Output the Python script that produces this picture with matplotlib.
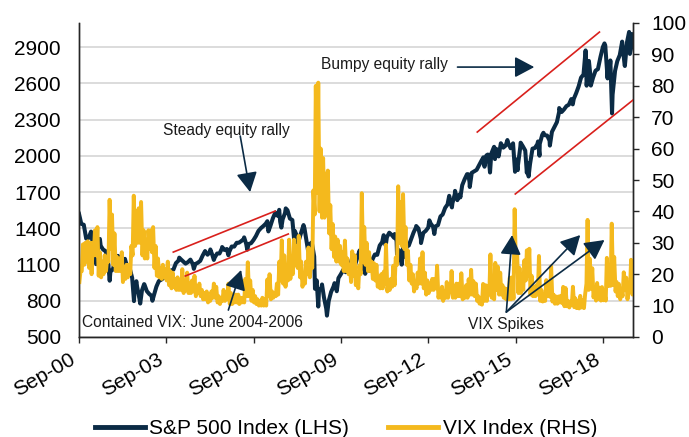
import matplotlib
matplotlib.use("Agg")
import matplotlib.pyplot as plt
import matplotlib.dates as mdates
from matplotlib import font_manager
import pandas as pd
import numpy as np

# ---------------- data ----------------
# S&P 500 month-end closes (Sep 2000 - Sep 2019)
spx_2000 = [1436.5, 1429.4, 1315.2, 1320.3]
spx_2001 = [1366.0, 1239.9, 1160.3, 1249.5, 1255.8, 1224.4, 1211.2, 1133.6, 1040.9, 1059.8, 1139.5, 1148.1]
spx_2002 = [1130.2, 1106.7, 1147.4, 1076.9, 1067.1, 989.8, 911.6, 916.1, 815.3, 885.8, 936.3, 879.8]
spx_2003 = [855.7, 841.2, 848.2, 916.9, 963.6, 974.5, 990.3, 1008.0, 996.0, 1050.7, 1058.2, 1111.9]
spx_2004 = [1131.1, 1144.9, 1126.2, 1107.3, 1120.7, 1140.8, 1101.7, 1104.2, 1114.6, 1130.2, 1173.8, 1211.9]
spx_2005 = [1181.3, 1203.6, 1180.6, 1156.9, 1191.5, 1191.3, 1234.2, 1220.3, 1228.8, 1207.0, 1249.5, 1248.3]
spx_2006 = [1280.1, 1280.7, 1294.8, 1310.6, 1270.1, 1270.2, 1276.7, 1303.8, 1335.9, 1377.9, 1400.6, 1418.3]
spx_2007 = [1438.2, 1406.8, 1420.9, 1482.4, 1530.6, 1503.4, 1455.3, 1474.0, 1526.8, 1549.4, 1481.1, 1468.4]
spx_2008 = [1378.6, 1330.6, 1322.7, 1385.6, 1400.4, 1280.0, 1267.4, 1282.8, 1166.4, 968.8, 896.2, 903.3]
spx_2009 = [825.9, 735.1, 797.9, 872.8, 919.1, 919.3, 987.5, 1020.6, 1057.1, 1036.2, 1095.6, 1115.1]
spx_2010 = [1073.9, 1104.5, 1169.4, 1186.7, 1089.4, 1030.7, 1101.6, 1049.3, 1141.2, 1183.3, 1180.6, 1257.6]
spx_2011 = [1286.1, 1327.2, 1325.8, 1363.6, 1345.2, 1320.6, 1292.3, 1218.9, 1131.4, 1253.3, 1247.0, 1257.6]
spx_2012 = [1312.4, 1365.7, 1408.5, 1397.9, 1310.3, 1362.2, 1379.3, 1406.6, 1440.7, 1412.2, 1416.2, 1426.2]
spx_2013 = [1498.1, 1514.7, 1569.2, 1597.6, 1630.7, 1606.3, 1685.7, 1633.0, 1681.6, 1756.5, 1805.8, 1848.4]
spx_2014 = [1782.6, 1859.5, 1872.3, 1883.9, 1923.6, 1960.2, 1930.7, 2003.4, 1972.3, 2018.1, 2067.6, 2058.9]
spx_2015 = [1995.0, 2104.5, 2067.9, 2085.5, 2107.4, 2063.1, 2103.8, 1972.2, 1920.0, 2079.4, 2080.4, 2043.9]
spx_2016 = [1940.2, 1932.2, 2059.7, 2065.3, 2097.0, 2098.9, 2173.6, 2171.0, 2168.3, 2126.2, 2198.8, 2238.8]
spx_2017 = [2278.9, 2363.6, 2362.7, 2384.2, 2411.8, 2423.4, 2470.3, 2471.7, 2519.4, 2575.3, 2647.6, 2673.6]
spx_2018 = [2823.8, 2713.8, 2640.9, 2648.1, 2705.3, 2718.4, 2816.3, 2901.5, 2914.0, 2711.7, 2760.2, 2506.9]
spx_2019 = [2704.1, 2784.5, 2834.4, 2945.8, 2752.1, 2941.8, 2980.4, 2926.5]

# S&P 500 intra-month turning points
spx_extra_dates = ["2000-09-01", "2001-01-30", "2001-04-04", "2001-05-21", "2001-09-21", "2002-01-04",
                   "2002-07-23", "2002-08-22", "2002-10-09", "2002-11-27", "2003-03-11", "2004-02-11",
                   "2004-08-12", "2005-03-07", "2005-04-20", "2005-08-02", "2005-10-19", "2006-05-05",
                   "2006-06-13", "2007-02-20", "2007-03-05", "2007-07-19", "2007-08-15", "2007-10-09",
                   "2008-01-22", "2008-03-10", "2008-05-19", "2008-07-15", "2008-10-10", "2008-11-20",
                   "2009-01-06", "2009-03-09", "2009-06-12", "2009-07-10", "2010-01-19", "2010-02-08",
                   "2010-04-23", "2010-07-02", "2010-08-09", "2010-08-26", "2011-02-18", "2011-03-16",
                   "2011-07-07", "2011-08-08", "2011-10-03", "2011-10-27", "2011-11-25", "2012-04-02",
                   "2012-06-01", "2012-09-14", "2012-11-15", "2013-05-21", "2013-06-24", "2013-08-02",
                   "2013-10-08", "2014-01-15", "2014-02-03", "2014-07-24", "2014-08-07", "2014-09-18",
                   "2014-10-15", "2014-12-05", "2014-12-16", "2015-05-21", "2015-08-25", "2015-09-28",
                   "2015-11-03", "2016-01-20", "2016-02-11", "2016-06-08", "2016-06-27", "2016-08-15",
                   "2016-11-04", "2017-03-01", "2017-08-18", "2018-01-26", "2018-02-08", "2018-03-09",
                   "2018-04-02", "2018-09-20", "2018-10-29", "2018-12-03", "2018-12-24", "2019-06-03",
                   "2019-07-26", "2019-08-05", "2019-09-13"]
spx_extra_values = [1520, 1373, 1103, 1312, 966, 1172,
                    797, 962, 777, 938, 800, 1157,
                    1064, 1225, 1138, 1245, 1177, 1325,
                    1223, 1459, 1374, 1553, 1406, 1565,
                    1310, 1273, 1427, 1215, 899, 752,
                    935, 677, 946, 879, 1150, 1057,
                    1217, 1023, 1128, 1047, 1343, 1257,
                    1353, 1120, 1099, 1285, 1159, 1419,
                    1278, 1466, 1353, 1669, 1573, 1710,
                    1656, 1848, 1742, 1988, 1910, 2011,
                    1862, 2075, 1973, 2131, 1868, 1882,
                    2109, 1859, 1829, 2119, 2001, 2191,
                    2085, 2396, 2426, 2873, 2581, 2786,
                    2582, 2931, 2641, 2790, 2351, 2744,
                    3026, 2844, 3007]

# VIX monthly low / high (Sep 2000 - Sep 2019)
vix_low = {
    2000: [17.5, 21.0, 23.0, 24.0],
    2001: [22, 20, 26, 26, 19.5, 19, 20, 21, 24, 28, 23, 21],
    2002: [21, 21, 17.5, 18.5, 19, 20, 26, 29, 30, 30, 26, 25],
    2003: [25, 28, 27, 22, 19.5, 19, 18.5, 19, 18, 16.5, 15.5, 16],
    2004: [15, 15, 15, 14, 15, 14, 14, 14.5, 13, 14, 13, 12],
    2005: [12, 11, 11.5, 12.5, 12.5, 11, 10.5, 11.5, 11.5, 12, 10.5, 10.5],
    2006: [11, 11, 10.5, 11, 11, 13, 13, 11.5, 11, 10.5, 10, 10],
    2007: [10, 10, 13, 12, 12.5, 13, 13.5, 18, 17, 16, 18, 18.5],
    2008: [20, 23, 22, 19, 16, 17, 20, 19, 22, 39, 46, 40],
    2009: [38, 38, 39, 33, 28, 25.5, 24, 24, 23, 21, 21, 20],
    2010: [17.5, 19.5, 16.5, 15.5, 20, 24, 23, 21, 21, 18.5, 18, 16],
    2011: [15.5, 15.5, 17, 14.5, 15, 16, 16.5, 23, 30, 29, 28, 23],
    2012: [18, 17, 14.5, 15.5, 17, 17, 15.5, 13.5, 14, 15, 15, 15.5],
    2013: [12.5, 12.5, 11.5, 12.5, 12.5, 14.5, 12.5, 12.5, 13, 13, 12, 12.5],
    2014: [12.5, 13.5, 13.5, 13, 11.5, 10.6, 10.3, 11.5, 11.5, 13.5, 12.5, 12],
    2015: [15, 13.5, 13.5, 12.5, 12, 12, 12, 12.2, 21, 14, 14, 15],
    2016: [18, 19.5, 13.5, 13, 13, 13.5, 11.5, 11.3, 11.5, 13, 12.8, 11.3],
    2017: [10.6, 10.6, 11, 10.8, 9.8, 9.8, 9.4, 10.1, 9.5, 9.2, 9.1, 9.4],
    2018: [9.2, 17, 15, 15.4, 12.6, 11.6, 12.1, 11.6, 11.7, 11.6, 16.2, 16.3],
    2019: [16.6, 14.5, 13, 12, 13, 15, 12, 15, 13.5],
}
vix_high = {
    2000: [21.0, 29.5, 30.0, 30.5],
    2001: [30, 30, 34, 35, 27, 24, 26, 25, 43.7, 39, 33, 25.5],
    2002: [25, 27, 22, 23, 23, 29, 45, 40, 41, 43, 34, 31],
    2003: [34, 34, 35, 29, 25, 22, 23, 21.5, 24, 21, 20.5, 18.5],
    2004: [19, 17.5, 21.6, 17.5, 20.5, 17, 18, 19.5, 15.5, 17, 15, 14],
    2005: [14.5, 12.5, 14.5, 17, 16, 13, 12, 15, 13.5, 17, 14, 12],
    2006: [13.5, 13.5, 12.5, 12.5, 18.5, 23.8, 18, 15, 13, 12, 11.5, 12.5],
    2007: [12, 18.3, 20, 14.5, 14, 17, 24, 30.8, 26, 22, 31, 24],
    2008: [31, 29, 32.2, 24, 19, 24, 28.5, 24, 46.7, 80, 81, 60],
    2009: [57, 52, 53, 42, 36, 32, 31, 29, 27, 30.7, 25, 23],
    2010: [27.3, 26, 19.5, 22.8, 45.8, 35, 30, 27, 24, 23.5, 23, 18],
    2011: [20, 20.8, 29.4, 18, 18.5, 22.7, 25.3, 48, 43, 45.5, 35, 27.5],
    2012: [23, 20, 17.5, 20.5, 25, 27, 20.5, 18, 17, 18.5, 18.5, 22.7],
    2013: [14.5, 16, 14.5, 17.5, 14.5, 21, 16, 17, 17, 20.3, 14, 16.5],
    2014: [18.4, 21.4, 17.8, 17, 13, 12.5, 16.9, 16.5, 16.3, 26.3, 14, 23.6],
    2015: [22.4, 20.5, 16.5, 15.5, 15.3, 18.9, 19, 40.7, 27, 22, 20, 24.4],
    2016: [27.6, 28.1, 19.5, 16, 16.5, 25.8, 15, 13.5, 18.1, 17.5, 22.5, 13.5],
    2017: [12.9, 12.9, 13.1, 15.96, 15.6, 11.5, 11.3, 16, 12.3, 11.5, 13.1, 11.7],
    2018: [13.5, 37.3, 24.9, 21.9, 15.8, 17.2, 15.7, 15.9, 14.1, 25.2, 21.9, 36.1],
    2019: [25.5, 17.5, 16.9, 14.6, 20.6, 18.9, 16, 24.6, 19],
}

left_ticks = [500, 800, 1100, 1400, 1700, 2000, 2300, 2600, 2900]
right_ticks = [0, 10, 20, 30, 40, 50, 60, 70, 80, 90, 100]
x_tick_years = [2000, 2003, 2006, 2009, 2012, 2015, 2018]

# ---------------- build series ----------------
spx_month_vals = (spx_2000 + spx_2001 + spx_2002 + spx_2003 + spx_2004 + spx_2005 + spx_2006 +
                  spx_2007 + spx_2008 + spx_2009 + spx_2010 + spx_2011 + spx_2012 + spx_2013 +
                  spx_2014 + spx_2015 + spx_2016 + spx_2017 + spx_2018 + spx_2019)
spx_month_dates = pd.date_range("2000-09-30", periods=len(spx_month_vals), freq="ME")
spx = pd.concat([pd.Series(spx_month_vals, index=spx_month_dates),
                 pd.Series(spx_extra_values, index=pd.to_datetime(spx_extra_dates))]).sort_index()

vix_dates, vix_vals = [], []
for yr in sorted(vix_low):
    start_m = 9 if yr == 2000 else 1
    for i, (lo, hi) in enumerate(zip(vix_low[yr], vix_high[yr])):
        m = start_m + i
        vix_dates += [pd.Timestamp(yr, m, 6), pd.Timestamp(yr, m, 20)]
        vix_vals += [lo, hi]
vix = pd.Series(vix_vals, index=pd.DatetimeIndex(vix_dates))

# ---------------- style ----------------
names = {f.name for f in font_manager.fontManager.ttflist}
main_font = "Liberation Sans" if "Liberation Sans" in names else "DejaVu Sans"
if "Liberation Sans Narrow" in names:
    note_font, note_size = "Liberation Sans Narrow", 13.3
else:
    note_font, note_size = main_font, 11.2
plt.rcParams["font.family"] = [main_font, "DejaVu Sans"]

NAVY = "#0b2b45"
GOLD = "#f4b91d"
RED = "#d9201c"
GRID = "#d9d9d9"
SPINE = "#262626"

fig = plt.figure(figsize=(6.89, 4.37), dpi=100)
ax = fig.add_axes([79 / 689, 1 - 337 / 437, (633 - 79) / 689, (337 - 23) / 437])
ax2 = ax.twinx()

xmin, xmax = pd.Timestamp("2000-09-01"), pd.Timestamp("2019-09-13")

l1, = ax.plot(spx.index, spx.values, color=NAVY, lw=2.9, solid_joinstyle="round")
l2, = ax2.plot(vix.index, vix.values, color=GOLD, lw=2.8, solid_joinstyle="round")

ax.set_xlim(xmin, xmax)
ax.set_ylim(500, 3100)
ax2.set_ylim(0, 100)
ax2.set_xlim(xmin, xmax)

ax.set_yticks(left_ticks)
ax2.set_yticks(right_ticks)
ax.set_xticks([pd.Timestamp(y, 9, 1) for y in x_tick_years])
ax.xaxis.set_major_formatter(mdates.DateFormatter("%b-%y"))

ax.yaxis.grid(True, color=GRID, lw=1.3)
ax.set_axisbelow(True)

for a in (ax, ax2):
    a.spines["top"].set_visible(False)
    for s in ("left", "right", "bottom"):
        a.spines[s].set_color(SPINE)
        a.spines[s].set_linewidth(1.0)

ax.tick_params(axis="y", length=0, pad=13, labelsize=15, colors="black")
ax.tick_params(axis="x", length=4.5, width=1.0, color=SPINE, pad=5, labelsize=15)
ax2.tick_params(axis="y", length=4, width=1.0, color=SPINE, pad=9, labelsize=15)
for lab in ax.get_xticklabels():
    lab.set_rotation(30)
    lab.set_ha("right")

# ---------------- annotations (in S&P data coordinates, drawn on top) ----------------
T = ax.transData
D = pd.Timestamp
def xd(s):
    return mdates.date2num(D(s))

red_lines = [
    (("2003-11-28", 1203), ("2007-05-30", 1543)),
    (("2004-04-27", 1005), ("2007-11-10", 1353)),
    (("2014-05-08", 2197), ("2018-07-19", 3025)),
    (("2015-08-28", 1684), ("2019-09-13", 2462)),
]
for (d0, v0), (d1, v1) in red_lines:
    ax2.plot([xd(d0), xd(d1)], [v0, v1], color=RED, lw=1.2, transform=T, zorder=5)

arrow_kw = dict(arrowstyle="-|>,head_length=0.6,head_width=0.32", color=NAVY, lw=1.2,
                mutation_scale=20, shrinkA=0, shrinkB=0)
note_kw = dict(fontsize=note_size, family=note_font, color="#1a1a1a", ha="center", va="center",
               transform=T, zorder=6)

ax2.text(xd("2005-09-24"), 2213, "Steady equity rally", **note_kw)
ax2.annotate("", xy=(xd("2006-07-19"), 1700), xytext=(xd("2006-03-17"), 2164),
             xycoords=T, textcoords=T, arrowprops=arrow_kw, zorder=6)

ax2.text(xd("2011-03-01"), 2760, "Bumpy equity rally", **note_kw)
ax2.annotate("", xy=(xd("2016-04-22"), 2735), xytext=(xd("2013-09-02"), 2735),
             xycoords=T, textcoords=T, arrowprops=arrow_kw, zorder=6)

ax2.text(xd("2004-07-23"), 616, "Contained VIX: June 2004-2006", **note_kw)
ax2.annotate("", xy=(xd("2006-03-28"), 1055), xytext=(xd("2005-10-19"), 723),
             xycoords=T, textcoords=T, arrowprops=arrow_kw, zorder=6)

ax2.text(xd("2015-05-08"), 600, "VIX Spikes", **note_kw)
for tip_d, tip_v in [("2015-07-19", 1344), ("2017-11-20", 1344), ("2018-09-20", 1303)]:
    ax2.annotate("", xy=(xd(tip_d), tip_v), xytext=(xd("2015-05-08"), 707),
                 xycoords=T, textcoords=T, arrowprops=arrow_kw, zorder=6)

ax.set_xlim(xmin, xmax)
ax.set_ylim(500, 3100)
ax2.set_ylim(0, 100)

# ---------------- legend ----------------
leg = fig.legend([l1, l2], ["S&P 500 Index (LHS)", "VIX Index (RHS)"],
                 loc="center", bbox_to_anchor=(0.502, 0.019), ncol=2, frameon=False,
                 fontsize=15, handlelength=2.4, handletextpad=0.2, columnspacing=1.9)
for h in leg.get_lines():
    h.set_linewidth(3.5)

fig.savefig("out.png", dpi=100)
